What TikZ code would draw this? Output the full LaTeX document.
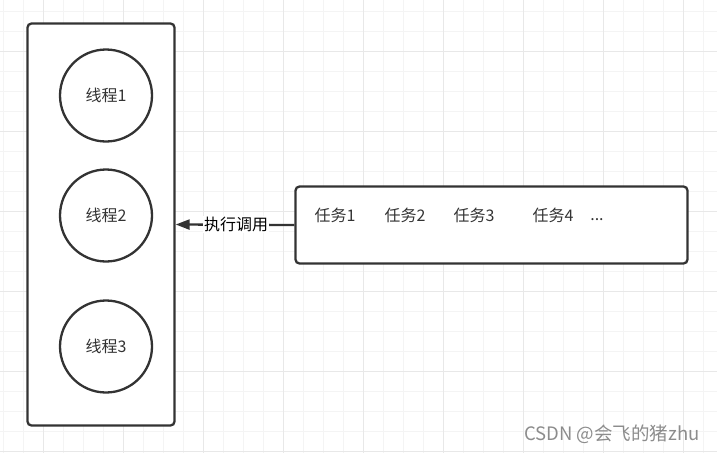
\documentclass[tikz,border=0pt]{standalone}
\usepackage{fontspec}
\setmainfont{Noto Sans CJK SC}
\usetikzlibrary{arrows.meta}
\definecolor{linec}{HTML}{333333}
\definecolor{txt}{HTML}{333333}
\definecolor{gminor}{HTML}{F4F4F4}
\definecolor{gmajor}{HTML}{E8E8E8}
\definecolor{wm}{HTML}{8C8C8C}
\newcommand{\fsmain}{\fontsize{16}{18}\selectfont}
\newcommand{\fswm}{\fontsize{18.5}{21}\selectfont}
\begin{document}
\begin{tikzpicture}[x=1pt,y=-1pt,
  gridminor/.style={draw=gminor, line width=1pt},
  gridmajor/.style={draw=gmajor, line width=1pt},
  box/.style={draw=linec, line width=2.3pt, rounded corners=4pt, fill=white, inner sep=0pt},
  thread/.style={circle, draw=linec, line width=2.3pt, minimum size=92pt, inner sep=0pt, font=\fsmain, text=txt, fill=white},
  task/.style={font=\fsmain, text=txt, inner sep=0pt},
  conn/.style={draw=linec, line width=2.3pt, -{Triangle[length=14pt,width=10pt]}},
  lbl/.style={font=\fsmain, text=black, fill=white, inner sep=1pt}]
\useasboundingbox (0,0) rectangle (717,453);
\fill[white] (0,0) rectangle (717,453);
\foreach \i in {0,...,35} {
  \draw[gridminor] (3.3+20*\i,0) -- (3.3+20*\i,453);
}
\foreach \i in {0,...,22} {
  \draw[gridminor] (0,11.7+20*\i) -- (717,11.7+20*\i);
}
\foreach \i in {0,...,8} {
  \draw[gridmajor] (43.3+80*\i,0) -- (43.3+80*\i,453);
}
\foreach \i in {0,...,5} {
  \draw[gridmajor] (0,51.7+80*\i) -- (717,51.7+80*\i);
}
\node[box, minimum width=147pt, minimum height=402pt] (pool) at (101,224.5) {};
\node[thread] (t1) at (106,95.5) {线程1};
\node[thread] (t2) at (106,215.5) {线程2};
\node[thread] (t3) at (106,346.5) {线程3};
\node[box, minimum width=392pt, minimum height=77pt] (queue) at (491.5,225) {};
\node[task] (k1) at (335,215) {任务1};
\node[task] (k2) at (405,215) {任务2};
\node[task] (k3) at (474,215) {任务3};
\node[task] (k4) at (553,215) {任务4};
\node[task, anchor=base] (k5) at (597,220) {{.}{.}{.}};
\draw[conn] (queue.west) -- (pool.east) node[lbl, pos=0.49] (call) {执行调用};
\node[font=\fswm, text=wm, inner sep=0pt] (mark) at (612,434) {CSDN @会飞的猪zhu};
\end{tikzpicture}
\end{document}
